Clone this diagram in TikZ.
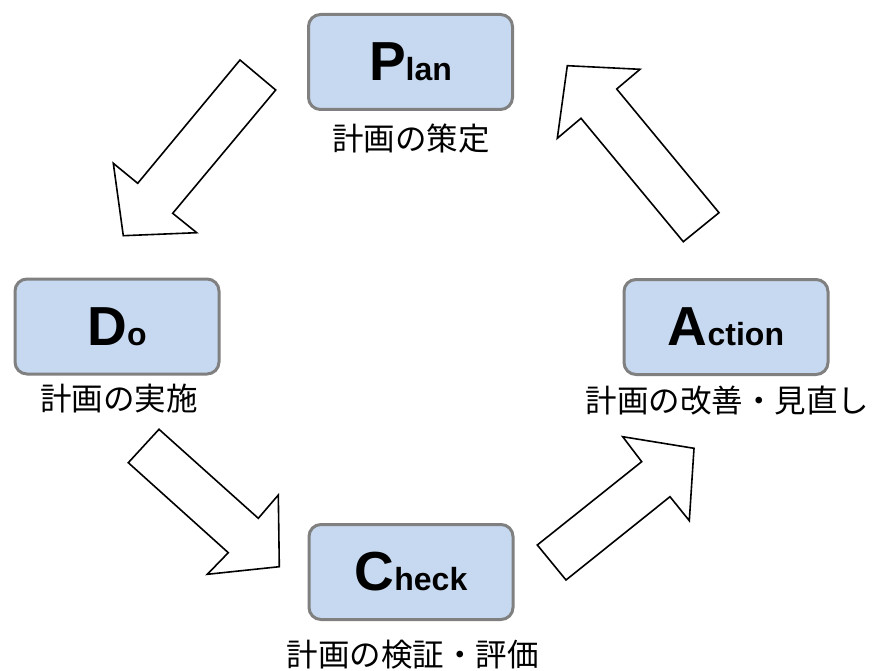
\documentclass[tikz,border=0pt]{standalone}
\usepackage{fontspec}
\setmainfont{Liberation Sans}
\newfontfamily\jpfont{Noto Sans CJK JP}
\usepackage{tikz}
\usetikzlibrary{positioning}

\definecolor{boxfill}{RGB}{199,217,240}
\definecolor{boxline}{RGB}{128,128,128}

\newcommand{\pdcaword}[2]{{\fontsize{55}{55}\selectfont\bfseries #1}{\fontsize{32}{32}\selectfont\bfseries #2}}

\begin{document}
\begin{tikzpicture}[x=1pt,y=-1pt,
        pdcabox/.style={draw=boxline,line width=3pt,fill=boxfill,rounded corners=12pt,minimum width=204pt,minimum height=95pt,inner sep=0pt},
        jplabel/.style={font=\jpfont\fontsize{31.5}{31.5}\selectfont,inner sep=0pt},
        blockarrow/.style={draw=black,line width=1.6pt,fill=white,line join=miter}]
        \useasboundingbox (0,0) rectangle (872,671);
        \node[pdcabox] (plan) at (410.5,62) {\pdcaword{P}{lan}};
        \node[pdcabox] (do) at (117,326.5) {\pdcaword{D}{o}};
        \node[pdcabox] (check) at (411,572) {\pdcaword{C}{heck}};
        \node[pdcabox] (action) at (726,327) {\pdcaword{A}{ction}};
        \node[jplabel] (planlbl) at (411,139) {計画の策定};
        \node[jplabel] (dolbl) at (119,399) {計画の実施};
        \node[jplabel] (actionlbl) at (727.5,401) {計画の改善・見直し};
        \node[jplabel] (checklbl) at (412.5,655) {計画の検証・評価};
        % block arrows round the cycle
        \draw[blockarrow] (240,60) -- (275.7,90) -- (172.7,213.3) -- (196.7,232.7) -- (123.3,235.7) -- (113.3,163.3) -- (137.7,183.3) -- cycle;
        \draw[blockarrow] (159,429.3) -- (258.3,518.3) -- (278.3,495) -- (279.3,566.7) -- (207.3,574.3) -- (228.3,552.7) -- (128.3,462.7) -- cycle;
        \draw[blockarrow] (537.3,545) -- (641.7,461.7) -- (622.7,436.7) -- (694,448.3) -- (689.3,520.7) -- (670,496.7) -- (566,580) -- cycle;
        \draw[blockarrow] (567.3,65.7) -- (640,69.3) -- (616.7,89) -- (719,212.7) -- (683.3,241.7) -- (581,118.3) -- (557.3,138.3) -- cycle;
    \end{tikzpicture}
\end{document}
